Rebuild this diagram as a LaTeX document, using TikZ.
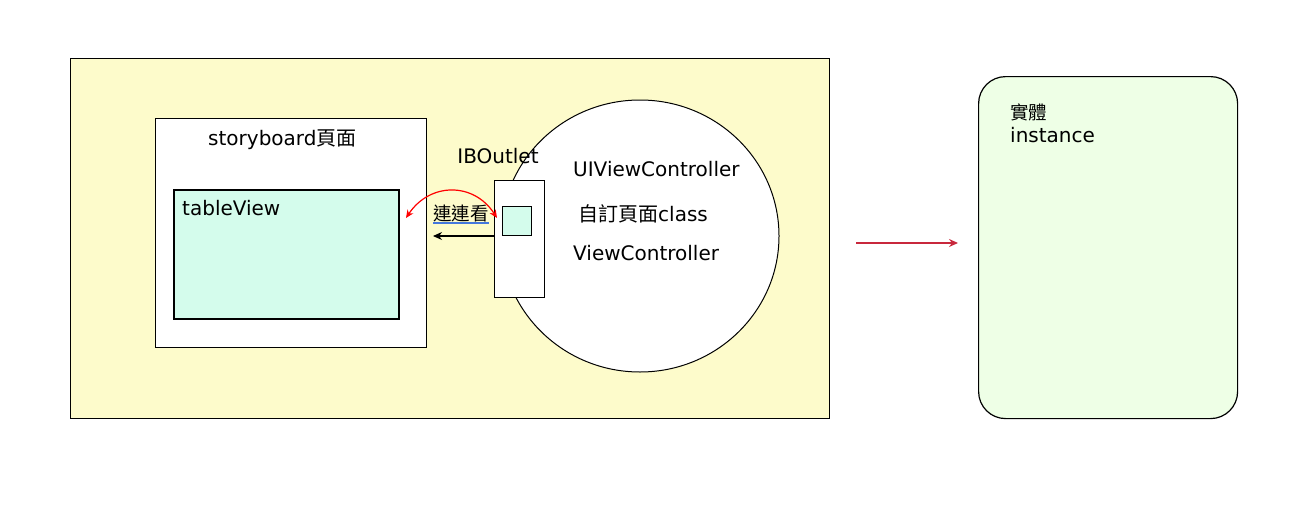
\documentclass[tikz,border=0pt]{standalone}
\usepackage{fontspec}
\setmainfont{DejaVu Sans}
\newfontfamily\cjk{Noto Sans CJK TC}
\usetikzlibrary{shapes.geometric,arrows.meta}
\definecolor{bgyellow}{HTML}{FDFBCB}
\definecolor{mint}{HTML}{D4FCEC}
\definecolor{palegreen}{HTML}{EEFFE6}
\definecolor{arrred}{HTML}{C8283C}
\definecolor{ulblue}{HTML}{4477DD}
\tikzset{
  lbl/.style={font=\fontsize{20}{23}\selectfont, inner sep=0pt},
  cjklbl/.style={font=\cjk\fontsize{18.5}{21}\selectfont, inner sep=0pt},
  panel/.style={draw=black, line width=1pt},
}
\begin{document}
\begin{tikzpicture}[x=1pt,y=-1pt]
\useasboundingbox (0,0) rectangle (1290,506);
% outer yellow panel
\node[panel, fill=bgyellow, minimum width=759pt, minimum height=360pt, anchor=north west, inner sep=0pt] (yellow) at (70,58) {};
% storyboard page
\node[panel, fill=white, minimum width=271pt, minimum height=229pt, anchor=north west, inner sep=0pt] (story) at (155,118) {};
\node[lbl, anchor=base west] (storylbl) at (208,145) {storyboard{\cjk 頁面}};
% tableView
\node[draw=black, line width=1.5pt, fill=mint, minimum width=225pt, minimum height=129pt, anchor=north west, inner sep=0pt] (table) at (173,189) {};
\node[lbl, anchor=base west] (tablelbl) at (182,215) {tableView};
% ellipse
\node[draw=black, line width=1pt, fill=white, ellipse, minimum width=278pt, minimum height=272pt, inner sep=0pt] (ell) at (640,236) {};
% small rectangle
\node[panel, fill=white, minimum width=50pt, minimum height=117pt, anchor=north west, inner sep=0pt] (outlet) at (494,180) {};
\node[draw=black, line width=1pt, fill=mint, minimum width=29pt, minimum height=29pt, anchor=north west, inner sep=0pt] (sq) at (502,206) {};
% labels
\node[lbl, anchor=base] (iblbl) at (498,163) {IBOutlet};
\node[lbl, anchor=base west] (uivc) at (573,176) {UIViewController};
\node[lbl, anchor=base west] (custom) at (578,221) {{\cjk 自訂頁面}class};
\node[lbl, anchor=base west] (vc) at (573,260) {ViewController};
\node[cjklbl, anchor=base] (link) at (461,220) {連連看};
\draw[ulblue, line width=1.5pt] ([yshift=-3pt]link.base west) -- ([yshift=-3pt]link.base east);
% red curved double arrow
\coordinate (rl) at (406,218);
\coordinate (rr) at (497,218);
\draw[red, line width=1.2pt, {Stealth[length=8pt,width=7pt]}-{Stealth[length=8pt,width=7pt]}] (rl) .. controls (430,182) and (474,182) .. (rr);
% black arrow
\coordinate (bl) at (433,236);
\draw[black, line width=1.2pt, -{Stealth[length=9pt,width=8pt]}] (outlet.west |- bl) -- (bl);
% right side rounded box
\node[draw=black, line width=1.2pt, fill=palegreen, rounded corners=27pt, minimum width=259pt, minimum height=342pt, anchor=north west, inner sep=0pt] (inst) at (978,76) {};
\node[cjklbl, anchor=base west] (shiti) at (1010,119) {實體};
\node[lbl, anchor=base west] (instlbl) at (1010,142) {instance};
% red arrow between
\coordinate (ra) at (856,243);
\coordinate (rb) at (958,243);
\draw[arrred, line width=1.3pt, -{Stealth[length=9pt,width=8pt]}] (ra) -- (rb);
\end{tikzpicture}
\end{document}
